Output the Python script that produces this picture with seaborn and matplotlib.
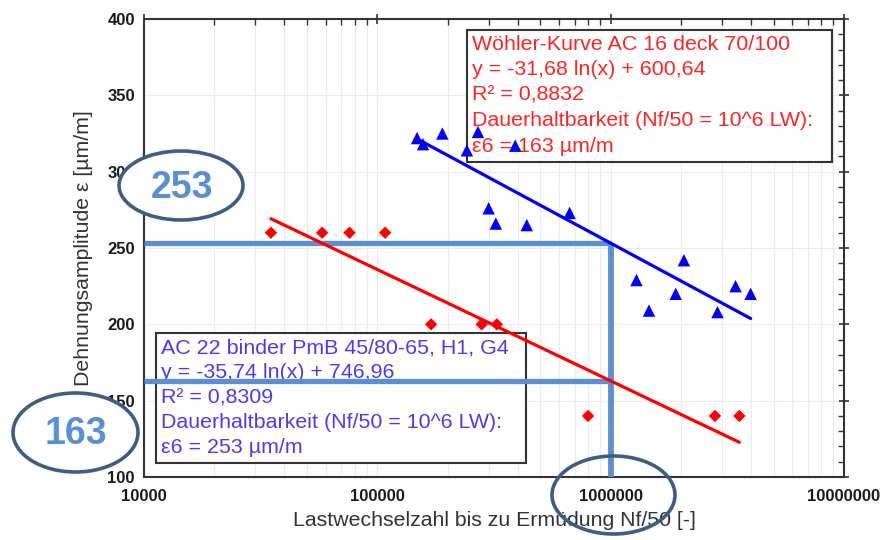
import numpy as np
import pandas as pd
import matplotlib
matplotlib.use("Agg")
import matplotlib.pyplot as plt
import seaborn as sns
from matplotlib.patches import Ellipse, Rectangle
from matplotlib.ticker import LogLocator, MultipleLocator, FixedLocator, NullFormatter

# ---------------- data ----------------
red_cycles = [35000, 58000, 76000, 108000, 170000, 280000, 325000, 800000, 2800000, 3560000]
red_strain = [260, 260, 260, 260, 200, 200, 200, 140, 140, 140]

blue_cycles = [148000, 157000, 190000, 270000, 242000, 390000, 300000, 322000, 437000,
               667000, 2060000, 1290000, 1900000, 1460000, 3430000, 3980000, 2870000]
blue_strain = [322, 318, 325, 326, 314, 317, 276, 266, 265,
               273, 242, 229, 220, 209, 225, 220, 208]

red_fit = (-31.68, 600.64)    # y = a ln(x) + b
blue_fit = (-35.74, 746.96)
endurance_cycles = 1e6

x_ticks = [1e4, 1e5, 1e6, 1e7]
x_tick_labels = ["10000", "100000", "1000000", "10000000"]
y_ticks = [100, 150, 200, 250, 300, 350, 400]
y_tick_labels = ["100", "150", "200", "250", "300", "350", "400"]

x_label = "Lastwechselzahl bis zu Ermüdung Nf/50 [-]"
y_label = "Dehnungsamplitude ε [µm/m]"

red_box_lines = ["Wöhler-Kurve AC 16 deck 70/100",
                 "y = -31,68 ln(x) + 600,64",
                 "R² = 0,8832",
                 "Dauerhaltbarkeit (Nf/50 = 10^6 LW):",
                 "ε6 = 163 µm/m"]
blue_box_lines = ["AC 22 binder PmB 45/80-65, H1, G4",
                  "y = -35,74 ln(x) + 746,96",
                  "R² = 0,8309",
                  "Dauerhaltbarkeit (Nf/50 = 10^6 LW):",
                  "ε6 = 253 µm/m"]

# ---------------- style ----------------
sns.set_style("white")
plt.rcParams['font.family'] = ['Liberation Sans', 'DejaVu Sans']

W, H = 887, 540
fig = plt.figure(figsize=(W / 100, H / 100), dpi=100)


def fx(px):
    return px / W


def fy(py):
    return 1 - py / H


ax = fig.add_axes([fx(144), fy(477), 700 / W, 458 / H])
ax.set_xscale('log')
ax.set_xlim(1e4, 1e7)
ax.set_ylim(100, 400)

RED = '#FF0000'
BLUE = '#0000F5'
LIGHTBLUE = '#5B8FD3'
DARK = '#3E5D85'
RED_TXT = '#FF2424'
BLUE_TXT = '#5038F2'

# grid
ax.grid(True, which='both', axis='x', color='#EBEBEB', lw=0.8, zorder=0)
ax.grid(True, which='major', axis='y', color='#EBEBEB', lw=0.8, zorder=0)
ax.set_axisbelow(True)

# data frames
df_red = pd.DataFrame({'N': red_cycles, 'eps': red_strain})
df_blue = pd.DataFrame({'N': blue_cycles, 'eps': blue_strain})

# regression curves from the fit coefficients
xr = np.geomspace(min(red_cycles), max(red_cycles), 60)
xb = np.geomspace(min(blue_cycles), max(blue_cycles), 60)
fit_red = pd.DataFrame({'N': xr, 'eps': red_fit[0] * np.log(xr) + red_fit[1]})
fit_blue = pd.DataFrame({'N': xb, 'eps': blue_fit[0] * np.log(xb) + blue_fit[1]})

red_end = red_fit[0] * np.log(endurance_cycles) + red_fit[1]
blue_end = blue_fit[0] * np.log(endurance_cycles) + blue_fit[1]

# reference lines (light blue)
ax.hlines([blue_end, red_end], 1e4, endurance_cycles, color=LIGHTBLUE, lw=3.8, zorder=3)
ax.vlines(endurance_cycles, 100, blue_end, color=LIGHTBLUE, lw=4.2, zorder=3)

sns.lineplot(data=fit_red, x='N', y='eps', color=RED, lw=2.3, ax=ax, zorder=4, legend=False)
sns.lineplot(data=fit_blue, x='N', y='eps', color=BLUE, lw=2.3, ax=ax, zorder=4, legend=False)

sns.scatterplot(data=df_red, x='N', y='eps', marker='D', s=40, color=RED,
                edgecolor='none', ax=ax, zorder=5, legend=False)
sns.scatterplot(data=df_blue, x='N', y='eps', marker='^', s=80, color='#0000FF',
                edgecolor='none', ax=ax, zorder=5, legend=False)

# ticks
ax.xaxis.set_major_locator(FixedLocator(x_ticks))
ax.set_xticklabels(x_tick_labels)
ax.xaxis.set_minor_locator(LogLocator(base=10, subs=np.arange(2, 10)))
ax.xaxis.set_minor_formatter(NullFormatter())
ax.yaxis.set_major_locator(FixedLocator(y_ticks))
ax.set_yticklabels(y_tick_labels)
ax.yaxis.set_minor_locator(MultipleLocator(10))

ax.tick_params(which='major', direction='inout', length=7, width=1.2, color='#333333',
               top=True, right=True, labelsize=12, labelcolor='#1A1A1A')
ax.tick_params(axis='x', which='major', pad=5)
ax.tick_params(axis='y', which='major', pad=3)
ax.tick_params(which='minor', direction='in', length=4, width=1.0, color='#333333',
               top=True, right=True)
for lbl in ax.get_xticklabels() + ax.get_yticklabels():
    lbl.set_fontweight('bold')

for sp in ax.spines.values():
    sp.set_color('#333333')
    sp.set_linewidth(1.5)

ax.set_xlabel(x_label, fontsize=15.3, color='#333333')
ax.set_ylabel(y_label, fontsize=15.3, color='#333333')
ax.xaxis.set_label_coords(0.5, -(511 - 477) / 458)
ax.yaxis.set_label_coords((93 - 144) / 700, 0.5)

# annotation boxes
def add_box(left, top, right, bottom, lines, color, first_center, step, text_x):
    rect = Rectangle((fx(left), fy(bottom)), (right - left) / W, (bottom - top) / H,
                     transform=fig.transFigure, facecolor='white', edgecolor='#333333',
                     lw=1.5, zorder=2, clip_on=False)
    ax.add_patch(rect)
    for i, line in enumerate(lines):
        ax.text(fx(text_x), fy(first_center + i * step), line, transform=fig.transFigure,
                ha='left', va='center', fontsize=15.4, color=color, zorder=2.5, clip_on=False)


add_box(467, 30, 832, 162, red_box_lines, RED_TXT, 44, 25.5, 472)
add_box(156, 333, 526, 463, blue_box_lines, BLUE_TXT, 348, 24.8, 161)

# ellipse callouts
def add_ellipse(cx, cy, w, h, fill):
    e = Ellipse((fx(cx), fy(cy)), w / W, h / H, transform=fig.transFigure,
                facecolor='white' if fill else 'none', edgecolor=DARK, lw=2.6,
                zorder=6, clip_on=False)
    ax.add_patch(e)


add_ellipse(181, 185.5, 124, 69, True)
ax.text(fx(182), fy(188), f"{blue_end:.0f}", transform=fig.transFigure, ha='center',
        va='center', fontsize=27, fontweight='bold', color=LIGHTBLUE, zorder=7, clip_on=False)
add_ellipse(75.5, 432.5, 125, 79, True)
ax.text(fx(76), fy(434), f"{red_end:.0f}", transform=fig.transFigure, ha='center',
        va='center', fontsize=27, fontweight='bold', color=LIGHTBLUE, zorder=7, clip_on=False)
add_ellipse(613.5, 495, 123, 78, False)

fig.savefig("out.png", dpi=100)
